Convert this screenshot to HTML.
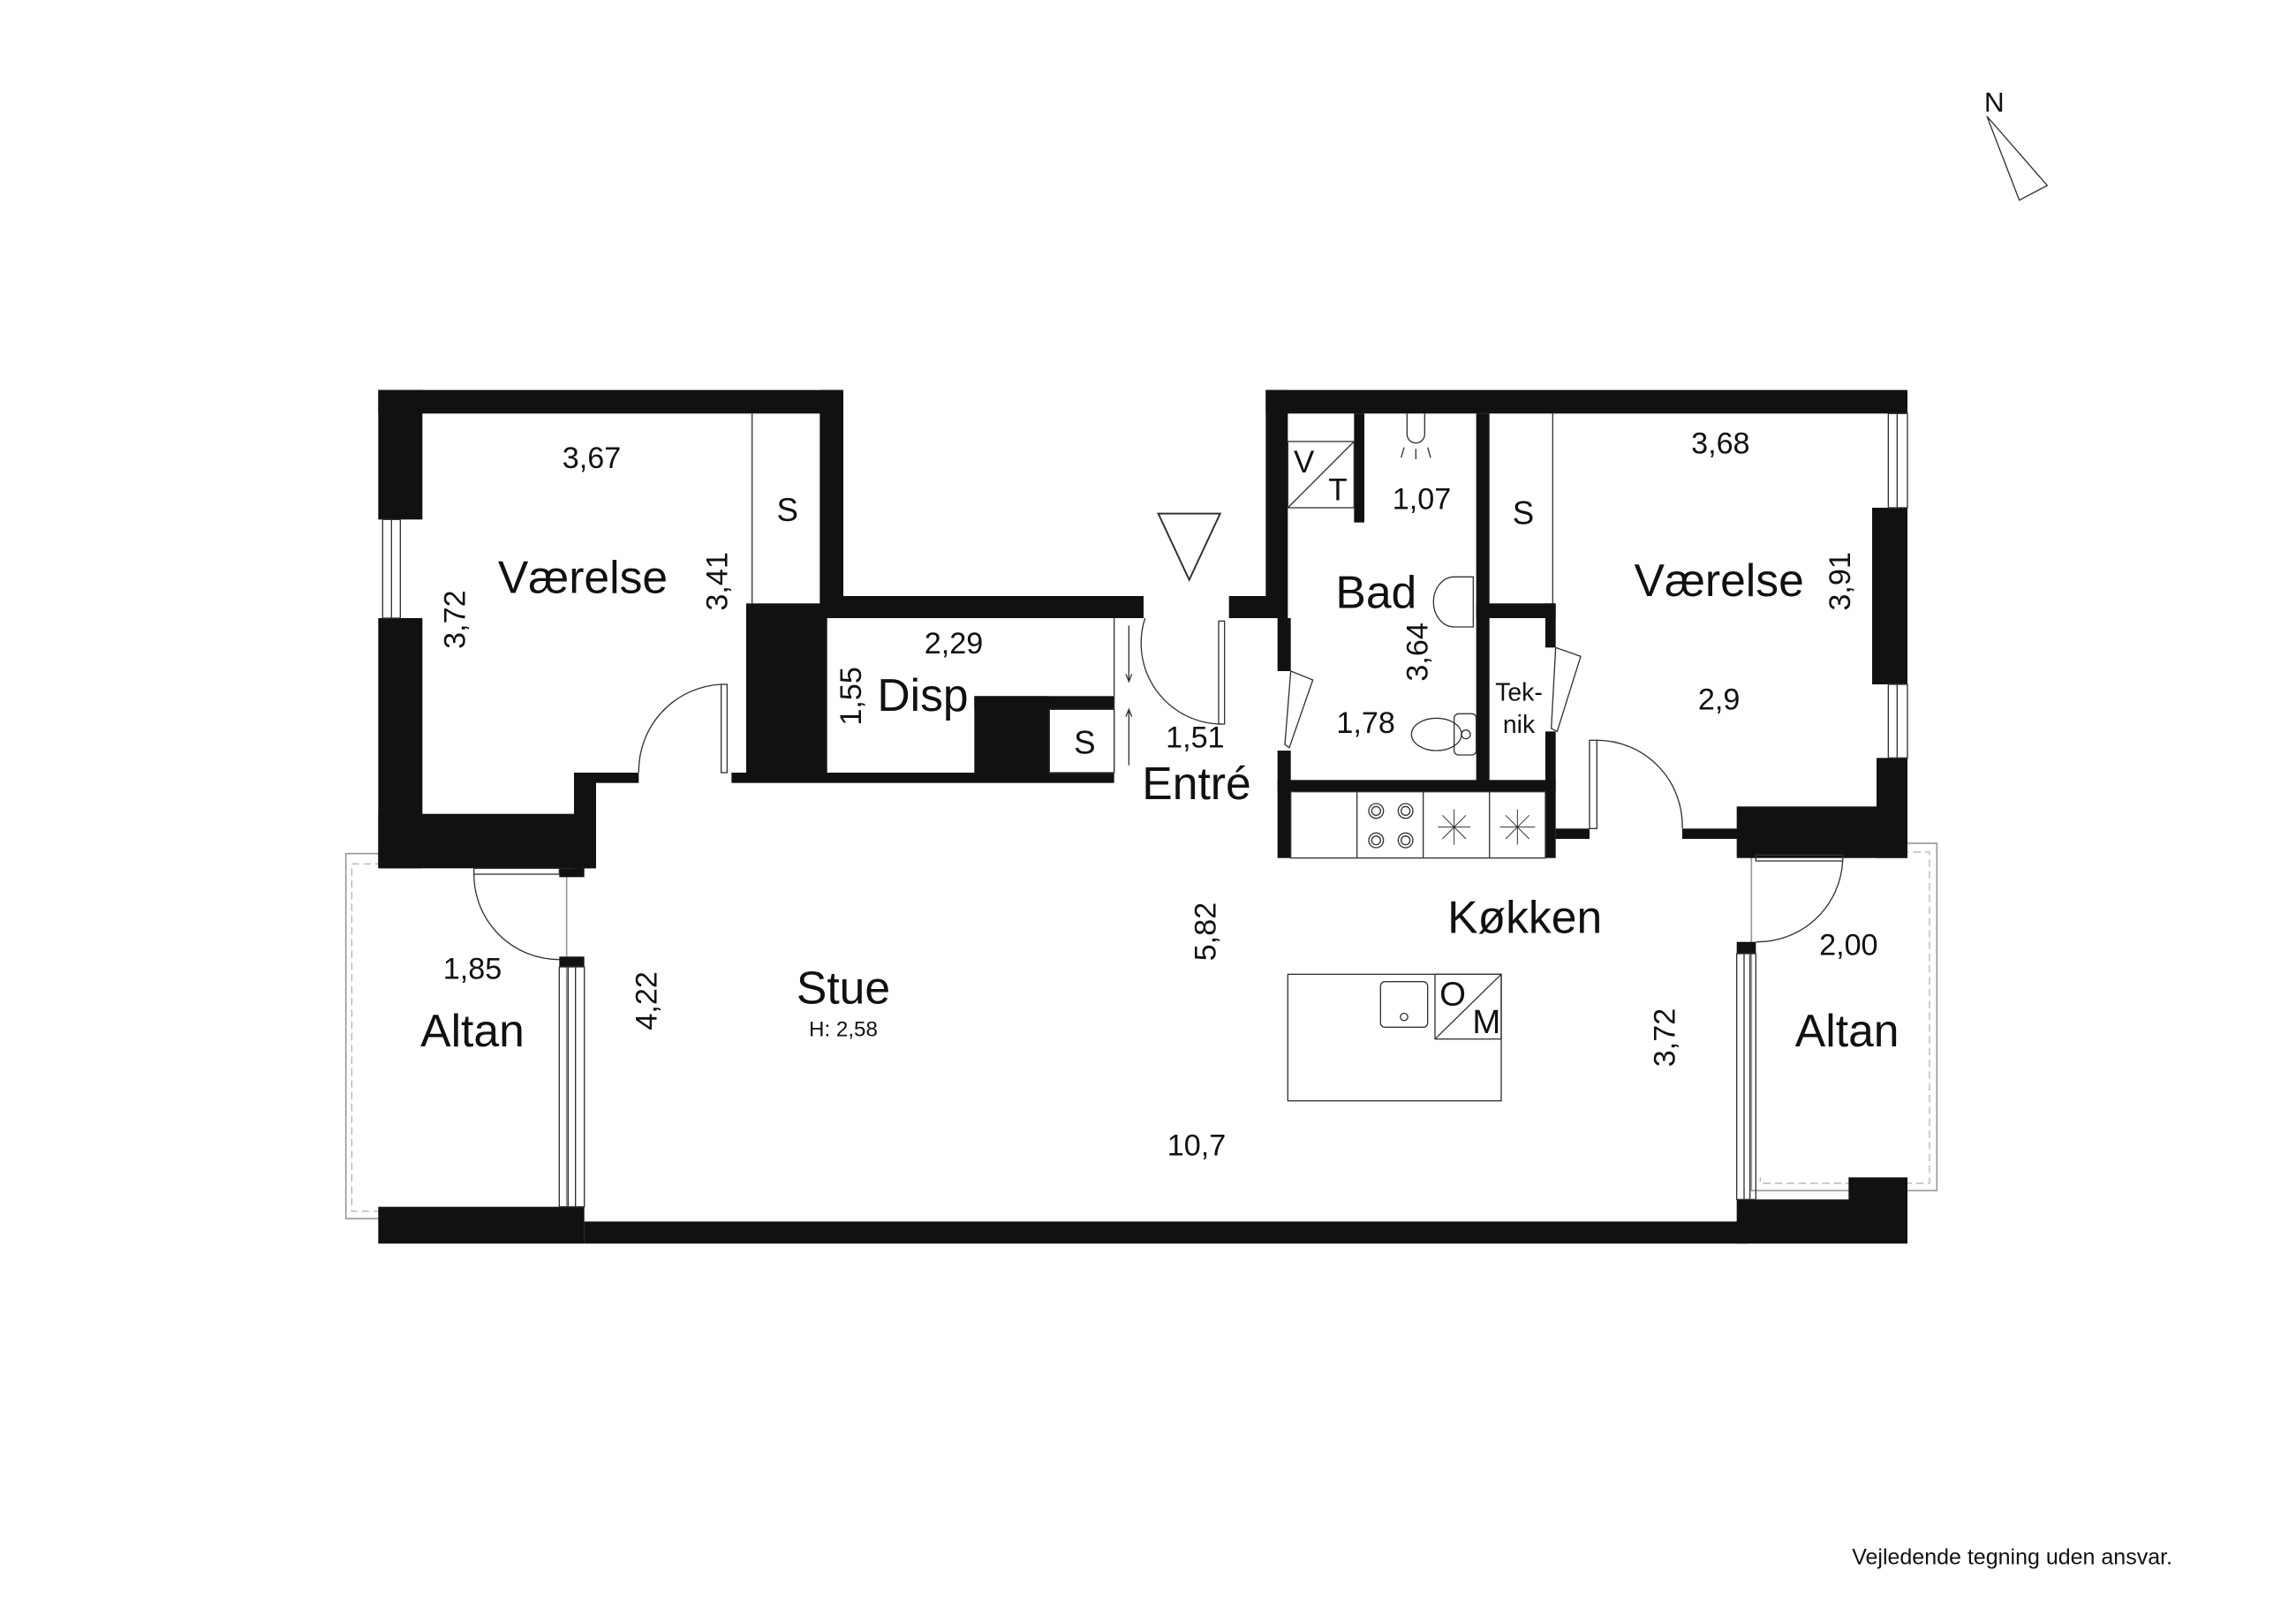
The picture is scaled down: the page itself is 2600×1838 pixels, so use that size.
<!DOCTYPE html>
<html><head><meta charset="utf-8"><style>html,body{margin:0;padding:0;background:#fff}svg{display:block}text{font-family:"Liberation Sans",Arial,sans-serif;fill:#111}</style></head>
<body>
<svg width="2600" height="1838" viewBox="0 0 1560 1102.8" xmlns="http://www.w3.org/2000/svg">
<rect x="0" y="0" width="1560" height="1102.8" fill="#fff"/>
<!-- North arrow -->
<text x="1355" y="76" font-size="19" text-anchor="middle">N</text>
<polygon points="1350,79 1391,126 1372,136" fill="none" stroke="#333" stroke-width="0.8"/>
<text x="1476" y="1063" font-size="15" text-anchor="end">Vejledende tegning uden ansvar.</text>

<!-- Balconies outlines -->
<rect x="235" y="580" width="150" height="248" fill="none" stroke="#999" stroke-width="1"/>
<rect x="239" y="587" width="140" height="236" fill="none" stroke="#aaa" stroke-width="0.7" stroke-dasharray="5,3"/>
<rect x="1190" y="573" width="126" height="236" fill="none" stroke="#999" stroke-width="1"/>
<rect x="1196" y="579" width="115" height="225" fill="none" stroke="#aaa" stroke-width="0.7" stroke-dasharray="5,3"/>
<rect x="257" y="590" width="123" height="230" fill="#fff"/>
<rect x="1193" y="583" width="108" height="217" fill="#fff"/>

<g fill="#111">
<!-- Left bedroom -->
<rect x="257" y="265" width="316" height="16"/>
<rect x="257" y="265" width="30" height="88"/>
<rect x="257" y="420" width="30" height="170"/>
<rect x="557" y="265" width="16" height="155"/>
<rect x="257" y="553" width="148" height="37"/>
<rect x="390" y="525" width="15" height="65"/>
<rect x="390" y="525" width="44" height="7"/>
<rect x="507" y="410" width="55" height="120"/>
<!-- Disp -->
<rect x="560" y="405" width="217" height="15"/>
<rect x="835" y="405" width="35" height="15"/>
<rect x="497" y="525" width="260" height="7"/>
<rect x="662" y="473" width="51" height="55"/>
<rect x="662" y="473" width="95" height="9"/>
<!-- Stue west wall -->
<rect x="380" y="590" width="17" height="6"/>
<rect x="380" y="650" width="17" height="7"/>
<rect x="257" y="820" width="140" height="25"/>
<rect x="397" y="830" width="790" height="15"/>
<rect x="1180" y="815" width="116" height="30"/>
<rect x="1256" y="800" width="40" height="20"/>
<!-- Right block -->
<rect x="860" y="265" width="436" height="16"/>
<rect x="860" y="265" width="15" height="155"/>
<rect x="868" y="420" width="9" height="36"/>
<rect x="868" y="510" width="9" height="73"/>
<rect x="920" y="281" width="7" height="74"/>
<rect x="1003" y="281" width="9" height="257"/>
<rect x="1003" y="410" width="54" height="10"/>
<rect x="1050" y="410" width="7" height="30"/>
<rect x="1050" y="497" width="7" height="86"/>
<rect x="868" y="530" width="189" height="8"/>
<rect x="1057" y="563" width="23" height="7"/>
<rect x="1143" y="563" width="40" height="7"/>
<rect x="1180" y="548" width="116" height="35"/>
<rect x="1275" y="515" width="21" height="68"/>
<rect x="1272" y="345" width="24" height="120"/>
<rect x="1180" y="640" width="13" height="8"/>
</g>

<g fill="none" stroke="#333" stroke-width="0.8">
<rect x="260" y="353" width="12" height="67"/><line x1="266" y1="353" x2="266" y2="420"/>
<rect x="1283" y="281" width="13" height="64"/><line x1="1289" y1="281" x2="1289" y2="345"/>
<rect x="1283" y="465" width="13" height="50"/><line x1="1289" y1="465" x2="1289" y2="515"/>
<rect x="380" y="657" width="17" height="163"/><line x1="386" y1="657" x2="386" y2="820"/><line x1="391" y1="657" x2="391" y2="820"/>
<rect x="1180" y="648" width="13" height="167"/><line x1="1185" y1="648" x2="1185" y2="815"/><line x1="1189" y1="648" x2="1189" y2="815"/>
<line x1="511" y1="281" x2="511" y2="410"/>
<line x1="1055" y1="281" x2="1055" y2="410"/>
<rect x="713" y="482" width="44" height="43"/>
<line x1="757" y1="420" x2="757" y2="525"/>
<rect x="490" y="465" width="4" height="60"/>
<path d="M490,465 A59,59 0 0 0 434,525"/>
<rect x="322" y="590" width="58" height="4"/>
<path d="M322,594 A58,58 0 0 0 380,652"/>
<rect x="828" y="422" width="4" height="70"/>
<path d="M778,420 A55,55 0 0 0 830,492"/>
<polygon points="877,456 892,462 876,508 873,506"/>
<polygon points="1057,440 1074,446 1058,497 1054,495"/>
<rect x="1080" y="503" width="5" height="60"/>
<path d="M1085,503 A58,58 0 0 1 1143,563"/>
<rect x="1193" y="581" width="59" height="4"/>
<path d="M1252,585 A58,58 0 0 1 1193,640"/>
<polygon points="787,349 829,349 808,394" stroke-width="1.2"/>
<line x1="767" y1="425" x2="767" y2="462"/><polyline points="765,458 767,463 769,458"/>
<line x1="767" y1="482" x2="767" y2="520"/><polyline points="765,487 767,482 769,487"/>
<rect x="875" y="300" width="45" height="45"/><line x1="875" y1="345" x2="920" y2="300"/>
<path d="M956,281 L956,295 A6,6 0 0 0 968,295 L968,281"/>
<line x1="954" y1="304" x2="952" y2="311"/><line x1="962" y1="305" x2="962" y2="312"/><line x1="970" y1="304" x2="972" y2="311"/>
<path d="M1001,392 L988,392 A14,17 0 0 0 988,426 L1001,426 Z"/>
<rect x="988" y="485" width="15" height="28" rx="3"/>
<ellipse cx="976" cy="499" rx="17" ry="11"/>
<circle cx="996" cy="499" r="3"/>
<rect x="877" y="538" width="173" height="45"/>
<line x1="922" y1="538" x2="922" y2="583"/><line x1="967" y1="538" x2="967" y2="583"/><line x1="1012" y1="538" x2="1012" y2="583"/>
<circle cx="935" cy="551" r="5"/><circle cx="955" cy="551" r="5"/><circle cx="935" cy="571" r="5"/><circle cx="955" cy="571" r="5"/>
<circle cx="935" cy="551" r="3"/><circle cx="955" cy="551" r="3"/><circle cx="935" cy="571" r="3"/><circle cx="955" cy="571" r="3"/>
<path d="M977,562 L999,562 M988,550 L988,574 M980,554 L996,570 M996,554 L980,570" stroke-width="0.6"/>
<path d="M1019,562 L1043,562 M1031,550 L1031,574 M1023,554 L1039,570 M1039,554 L1023,570" stroke-width="0.6"/>
<rect x="875" y="662" width="145" height="86"/>
<rect x="938" y="667" width="32" height="31" rx="3"/><circle cx="954" cy="691" r="2.5"/>
<rect x="975" y="662" width="45" height="44"/><line x1="975" y1="706" x2="1020" y2="662"/>
</g>

<g font-size="31" text-anchor="middle">
<text x="396" y="403">Værelse</text>
<text x="1168" y="405">Værelse</text>
<text x="627" y="483">Disp</text>
<text x="813" y="543">Entré</text>
<text x="935" y="413">Bad</text>
<text x="1036" y="634">Køkken</text>
<text x="573" y="682">Stue</text>
<text x="321" y="711">Altan</text>
<text x="1255" y="711">Altan</text>
</g>
<g font-size="20.5" text-anchor="middle">
<text x="402" y="318">3,67</text>
<text x="648" y="444">2,29</text>
<text x="812" y="508">1,51</text>
<text x="966" y="346">1,07</text>
<text x="928" y="498">1,78</text>
<text x="1169" y="308">3,68</text>
<text x="1168" y="482">2,9</text>
<text x="321" y="665">1,85</text>
<text x="813" y="785">10,7</text>
<text x="1256" y="649">2,00</text>
<text x="535" y="354" font-size="22">S</text>
<text x="737" y="512" font-size="22">S</text>
<text x="1035" y="356" font-size="22">S</text>
<text x="886" y="321" font-size="21">V</text>
<text x="909" y="340" font-size="21">T</text>
<text x="987" y="683" font-size="23">O</text>
<text x="1010" y="702" font-size="23">M</text>
<text x="1032" y="476" font-size="17">Tek-</text>
<text x="1032" y="498" font-size="17">nik</text>
<text x="573" y="704" font-size="14.5">H: 2,58</text>
<text transform="translate(494,395) rotate(-90)">3,41</text>
<text transform="translate(316,421) rotate(-90)">3,72</text>
<text transform="translate(585,473) rotate(-90)">1,55</text>
<text transform="translate(970,443) rotate(-90)">3,64</text>
<text transform="translate(1257,395) rotate(-90)">3,91</text>
<text transform="translate(826,633) rotate(-90)">5,82</text>
<text transform="translate(446,680) rotate(-90)">4,22</text>
<text transform="translate(1138,705) rotate(-90)">3,72</text>
</g>
</svg>
</body></html>
